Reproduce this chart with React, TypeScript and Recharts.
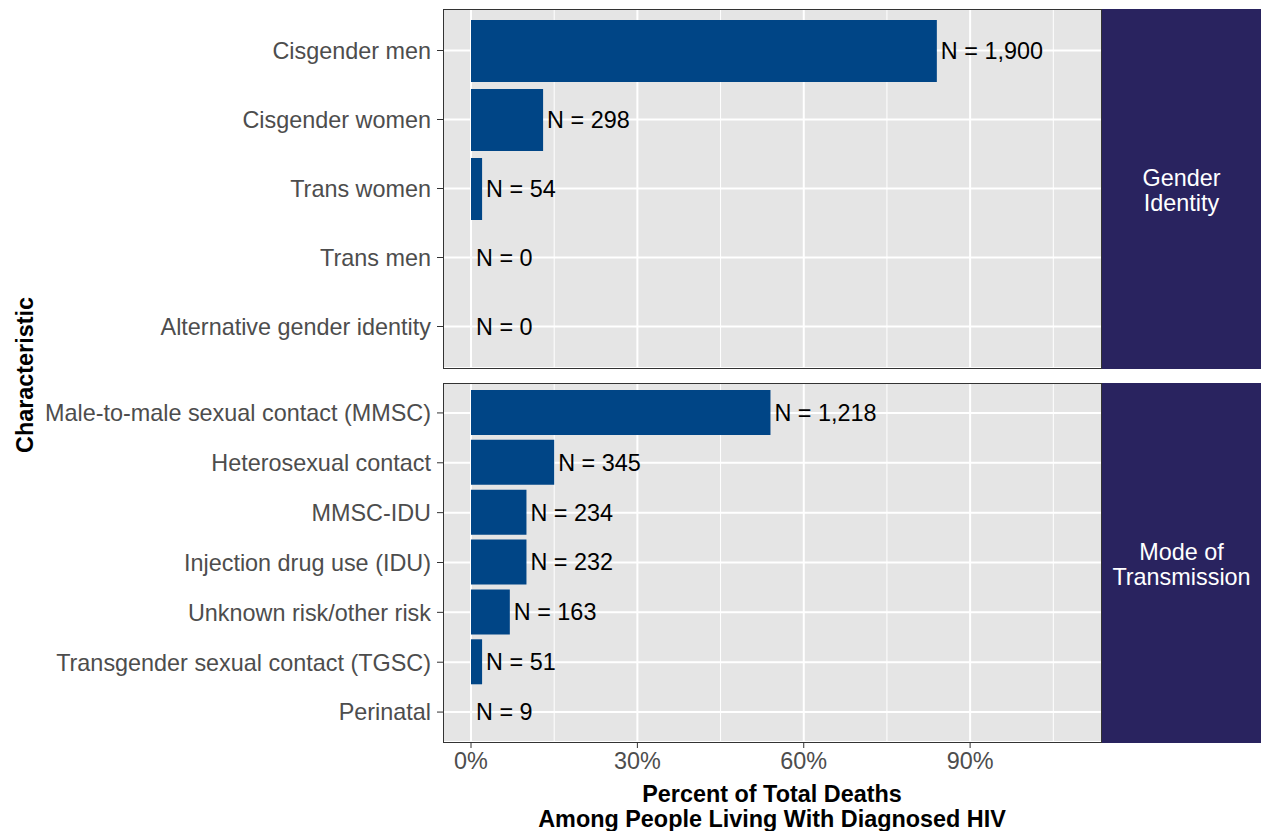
import React from "react";
import { BarChart, Bar, XAxis, YAxis, CartesianGrid, LabelList, Rectangle } from "recharts";

const genderCats = ["Cisgender men", "Cisgender women", "Trans women", "Trans men", "Alternative gender identity"];
const genderPct = [84, 13, 2, 0, 0];
const genderN = [1900, 298, 54, 0, 0];

const modeCats = [
  "Male-to-male sexual contact (MMSC)",
  "Heterosexual contact",
  "MMSC-IDU",
  "Injection drug use (IDU)",
  "Unknown risk/other risk",
  "Transgender sexual contact (TGSC)",
  "Perinatal",
];
const modePct = [54, 15, 10, 10, 7, 2, 0];
const modeN = [1218, 345, 234, 232, 163, 51, 9];

const xTicks = [0, 30, 60, 90];
const xMinor = [15, 45, 75, 105];

const FONT = "'Liberation Sans', Arial, Helvetica, sans-serif";
const FS = 23.4;
const BAR = "#004586";
const STRIP = "#29235F";
const DOMAIN: [number, number] = [-5.05, 113.6];

const genderData = genderCats.map((name, i) => ({ name, pct: genderPct[i], n: genderN[i] }));
const modeData = modeCats.map((name, i) => ({ name, pct: modePct[i], n: modeN[i] }));

const fmtN = (v: any) => `N = ${Number(v).toLocaleString("en-US")}`;

// zero bars get a 1px min size so their labels still render, but the bar itself is hidden
const barShape = (props: any) => {
  if (!props.pct) return <g />;
  return <Rectangle {...props} />;
};

function Panel({ data, height, pad, barSize, showX }: any) {
  const xH = showX ? 40 : 0;
  return (
    <BarChart
      width={1101}
      height={height + xH}
      data={data}
      layout="vertical"
      margin={{ top: 0, right: 0, bottom: 0, left: 0 }}
    >
      <CartesianGrid
        fill="#E5E5E5"
        stroke="#FFFFFF"
        strokeWidth={1}
        horizontal={false}
        verticalValues={xMinor}
      />
      <CartesianGrid stroke="#FFFFFF" strokeWidth={2} verticalValues={xTicks} />
      <XAxis
        type="number"
        domain={DOMAIN}
        allowDataOverflow
        ticks={xTicks}
        tickFormatter={(v) => `${v}%`}
        hide={!showX}
        height={xH}
        axisLine={false}
        tickLine={{ stroke: "#333333" }}
        tickSize={6}
        tickMargin={4}
        tick={{ fill: "#4D4D4D", fontSize: FS, fontFamily: FONT }}
      />
      <YAxis
        type="category"
        dataKey="name"
        width={443}
        padding={{ top: pad, bottom: pad }}
        axisLine={false}
        tickLine={{ stroke: "#333333" }}
        tickSize={6}
        tickMargin={6}
        interval={0}
        tick={{ fill: "#4D4D4D", fontSize: FS, fontFamily: FONT }}
      />
      <Bar
        dataKey="pct"
        fill={BAR}
        barSize={barSize}
        minPointSize={1}
        shape={barShape}
        isAnimationActive={false}
      >
        <LabelList
          dataKey="n"
          position="right"
          offset={4}
          formatter={fmtN}
          fill="#000000"
          fontSize={FS}
          fontFamily={FONT}
        />
      </Bar>
    </BarChart>
  );
}

export default function App() {
  const border = (top: number, h: number) => (
    <div
      style={{
        position: "absolute",
        left: 443,
        top,
        width: 659,
        height: h,
        border: "1px solid #333333",
        boxSizing: "border-box",
        pointerEvents: "none",
      }}
    />
  );
  const strip = (top: number, h: number, lines: string[]) => (
    <div
      style={{
        position: "absolute",
        left: 1102,
        top,
        width: 159,
        height: h,
        background: STRIP,
        color: "#FFFFFF",
        fontSize: FS,
        lineHeight: "25px",
        paddingTop: 4,
        boxSizing: "border-box",
        display: "flex",
        flexDirection: "column",
        alignItems: "center",
        justifyContent: "center",
        textAlign: "center",
      }}
    >
      {lines.map((l) => (
        <div key={l}>{l}</div>
      ))}
    </div>
  );
  return (
    <div
      style={{
        position: "absolute",
        left: 0,
        top: 0,
        width: 1261,
        height: 831,
        background: "#FFFFFF",
        fontFamily: FONT,
      }}
    >
      <div style={{ position: "absolute", left: 0, top: 9 }}>
        <Panel data={genderData} height={359} pad={7} barSize={62} showX={false} />
      </div>
      <div style={{ position: "absolute", left: 0, top: 383 }}>
        <Panel data={modeData} height={359} pad={5} barSize={45} showX={true} />
      </div>
      {border(9, 360)}
      {border(383, 360)}
      {strip(9, 360, ["Gender", "Identity"])}
      {strip(383, 360, ["Mode of", "Transmission"])}
      <div
        style={{
          position: "absolute",
          left: 443,
          width: 658,
          top: 782,
          textAlign: "center",
          fontWeight: "bold",
          fontSize: FS,
          lineHeight: "25px",
          color: "#000000",
        }}
      >
        <div>Percent of Total Deaths</div>
        <div>Among People Living With Diagnosed HIV</div>
      </div>
      <div
        style={{
          position: "absolute",
          left: 25,
          top: 375,
          transform: "translate(-50%, -50%) rotate(-90deg)",
          whiteSpace: "nowrap",
          fontWeight: "bold",
          fontSize: FS,
          color: "#000000",
        }}
      >
        Characteristic
      </div>
    </div>
  );
}
